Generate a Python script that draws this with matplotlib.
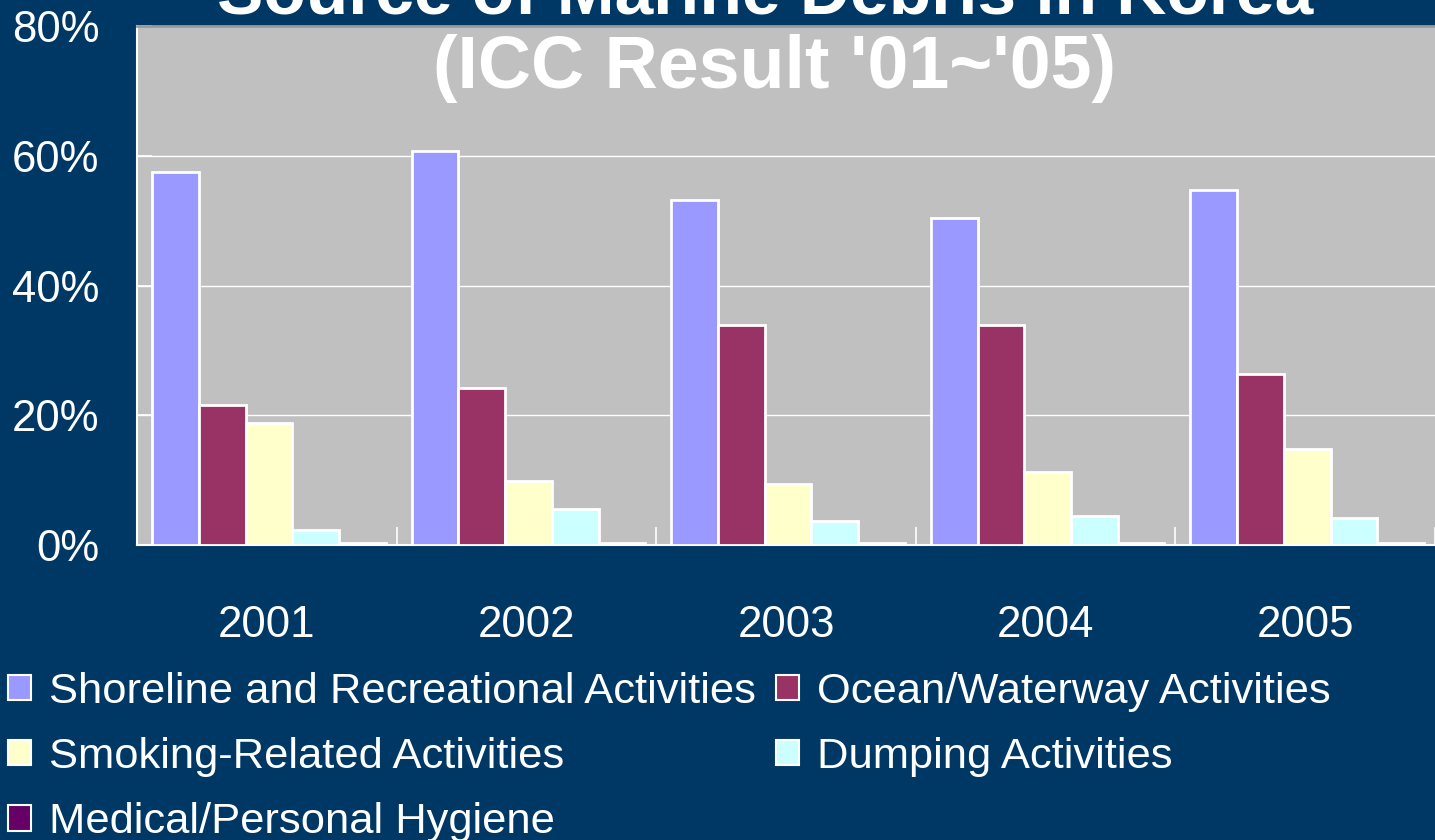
import matplotlib
matplotlib.use("Agg")
import matplotlib.pyplot as plt
from matplotlib.patches import Rectangle
import numpy as np

years = ["2001", "2002", "2003", "2004", "2005"]
series_names = [
    "Shoreline and Recreational Activities",
    "Ocean/Waterway Activities",
    "Smoking-Related Activities",
    "Dumping Activities",
    "Medical/Personal Hygiene",
]
shoreline = [57.5, 60.7, 53.2, 50.4, 54.7]
ocean = [21.6, 24.2, 33.9, 33.9, 26.3]
smoking = [18.8, 9.9, 9.4, 11.2, 14.8]
dumping = [2.3, 5.5, 3.7, 4.5, 4.2]
medical = [0.3, 0.3, 0.3, 0.3, 0.3]
y_ticks = [0, 20, 40, 60, 80]
y_tick_labels = ["0%", "20%", "40%", "60%", "80%"]

colors = ["#9999FF", "#993366", "#FFFFCC", "#CCFFFF", "#660066"]
BG = "#003865"

plt.rcParams["font.family"] = ["Liberation Sans", "DejaVu Sans"]

fig = plt.figure(figsize=(14.35, 8.40), dpi=100, facecolor=BG)
ax = fig.add_axes([137 / 1435, 1 - 545 / 840, 1 - 137 / 1435, (545 - 26) / 840])
ax.set_facecolor("#C0C0C0")

x = np.arange(len(years))
w = 0.18
all_series = [shoreline, ocean, smoking, dumping, medical]
for i, (vals, c) in enumerate(zip(all_series, colors)):
    ax.bar(x + (i - 2) * w + 0.008, vals, width=w, color=c, edgecolor="white",
           linewidth=2.0, zorder=3)

ax.set_xlim(-0.5, len(years) - 0.5)
ax.set_ylim(0, 80)
ax.set_yticks(y_ticks)
ax.set_yticklabels(y_tick_labels)
ax.yaxis.grid(True, color="white", linewidth=1.0, zorder=0)
ax.set_axisbelow(True)

ax.set_xticks(x)
ax.set_xticklabels(years)
ax.set_xticks(np.arange(len(years) + 1) - 0.5, minor=True)
ax.tick_params(axis="x", which="major", length=0, pad=43, labelsize=31.5, labelcolor="white")
ax.tick_params(axis="x", which="minor", direction="in", length=13, width=1.2, color="white")
ax.tick_params(axis="y", direction="in", length=11, width=1.2, color="white",
               pad=27, labelsize=31.5, labelcolor="white")

for s in ["left", "bottom"]:
    ax.spines[s].set_color("white")
    ax.spines[s].set_linewidth(1.5)
ax.spines["right"].set_visible(False)
ax.spines["top"].set_color("#999999")
ax.spines["top"].set_linewidth(2)

fig.text(0.533, 1 - 13 / 840, "Source of Marine Debris in Korea", color="white",
         fontsize=50, fontweight="bold", ha="center", va="baseline", zorder=10)
fig.text(0.54, 1 - 88 / 840, "(ICC Result '01~'05)", color="white",
         fontsize=53, fontweight="bold", ha="center", va="baseline", zorder=10)

handles = [Rectangle((0, 0), 1, 1, facecolor=c, edgecolor="white", linewidth=1.5)
           for c in colors]
order = [0, 2, 4, 1, 3]
leg = fig.legend([handles[i] for i in order], [series_names[i] for i in order],
                 ncol=2, loc="upper left", bbox_to_anchor=(8 / 1435, 1 - 672 / 840),
                 frameon=False, fontsize=31.3, borderpad=0, handlelength=0.52,
                 handleheight=0.52, handletextpad=0.42, columnspacing=0.47,
                 labelspacing=0.58, borderaxespad=0)
for t in leg.get_texts():
    t.set_color("white")

fig.savefig("out.png", dpi=100, facecolor=BG)
